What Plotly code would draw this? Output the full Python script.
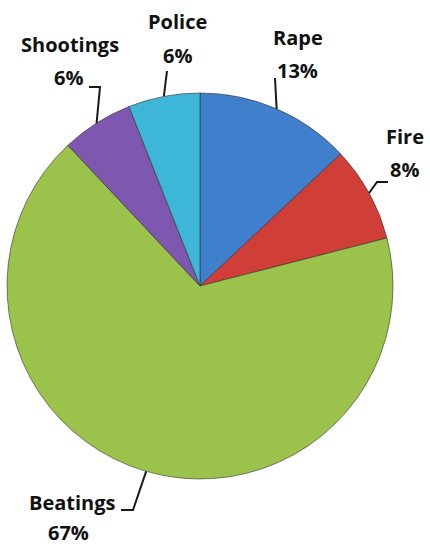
import math
import plotly.graph_objects as go

# ---- data ----
categories = ["Rape", "Fire", "Beatings", "Shootings", "Police"]
values = [13, 8, 67, 6, 6]

# ---- style ----
colors = ["#3F7FCC", "#CF3F37", "#9BC24A", "#7E58AE", "#3DB6D8"]
W, H = 430, 547
CX, CY, R = 200, 286, 193  # pie centre / radius in pixels
FONT = dict(family="Open Sans, Lato, Arial", size=20, color="#111111")

# label positions (pixels from top-left): name, percent, leader elbow points after the tip
label_style = {
    "Rape":      dict(name=(298, 38), pct=(297, 71), leader=[(275, 78)]),
    "Fire":      dict(name=(405, 137), pct=(404, 170), leader=[(377, 182), (388, 182)]),
    "Beatings":  dict(name=(72, 502), pct=(68, 532), leader=[(133, 510), (121, 510)]),
    "Shootings": dict(name=(70, 45), pct=(68, 78), leader=[(100, 87), (89, 87)]),
    "Police":    dict(name=(177, 22), pct=(177, 55), leader=[(167, 71)]),
}


def px(x):
    return x / W


def py(y):
    return 1 - y / H


fig = go.Figure(
    go.Pie(
        labels=categories,
        values=values,
        sort=False,
        direction="clockwise",
        rotation=0,
        marker=dict(colors=colors, line=dict(color="rgba(50,50,50,0.6)", width=1)),
        textinfo="none",
        hoverinfo="label+percent",
        showlegend=False,
        domain=dict(x=[px(CX - R), px(CX + R)], y=[py(CY + R), py(CY - R)]),
    )
)

total = sum(values)
annotations = []
shapes = []
cum = 0
for cat, v in zip(categories, values):
    mid = (cum + v / 2) / total * 2 * math.pi
    cum += v
    tx = CX + R * math.sin(mid)
    ty = CY - R * math.cos(mid)
    st = label_style[cat]
    pts = [(tx, ty)] + st["leader"]
    path = "M {} {}".format(px(pts[0][0]), py(pts[0][1]))
    for (a, b) in pts[1:]:
        path += " L {} {}".format(px(a), py(b))
    shapes.append(dict(type="path", xref="paper", yref="paper", path=path,
                       line=dict(color="#1a1a1a", width=2)))
    pct = "{}%".format(round(v / total * 100))
    annotations.append(dict(x=px(st["name"][0]), y=py(st["name"][1]), xref="paper", yref="paper",
                            text="<b>{}</b>".format(cat), showarrow=False, font=FONT,
                            xanchor="center", yanchor="middle"))
    annotations.append(dict(x=px(st["pct"][0]), y=py(st["pct"][1]), xref="paper", yref="paper",
                            text="<b>{}</b>".format(pct), showarrow=False, font=FONT,
                            xanchor="center", yanchor="middle"))

fig.update_layout(
    width=W, height=H,
    margin=dict(l=0, r=0, t=0, b=0),
    paper_bgcolor="white", plot_bgcolor="white",
    annotations=annotations, shapes=shapes,
)

fig.write_html("out.html", config={"displayModeBar": False},
               post_script="document.body.style.margin='0';document.body.style.overflow='hidden';")
